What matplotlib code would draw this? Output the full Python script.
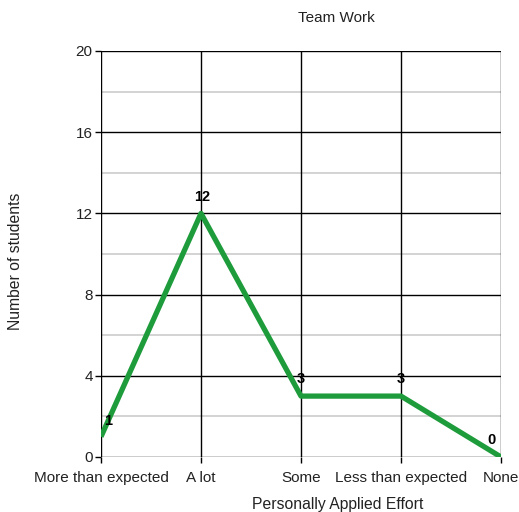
import matplotlib
matplotlib.use("Agg")
import matplotlib.pyplot as plt

categories = ["More than expected", "A lot", "Some", "Less than expected", "None"]
values = [1, 12, 3, 3, 0]
label_offsets = [(5, 11), (1, 12), (0, 12), (0, 12), (-7, 12)]
y_ticks = [0, 4, 8, 12, 16, 20]
y_minor = [2, 6, 10, 14, 18]

plt.rcParams['font.family'] = ['Liberation Sans', 'DejaVu Sans']

fig = plt.figure(figsize=(5.19, 5.12), dpi=100)
ax = fig.add_axes([101/519, 1 - 457/512, 400/519, 406/512])

x = list(range(len(categories)))
ax.set_xlim(0, len(categories) - 1)
ax.set_ylim(0, 20)

for m in y_minor:
    ax.axhline(m, color='#cccccc', lw=1.2, zorder=1)
for t in y_ticks:
    ax.axhline(t, color='black', lw=1.0, zorder=1.5)
for xi in x:
    ax.axvline(xi, color='black', lw=1.0, zorder=1.5)

ax.plot(x, values, color='#1e9c3c', lw=3.8, zorder=3, solid_capstyle='butt')

for xi, v, off in zip(x, values, label_offsets):
    ax.annotate(str(v), (xi, v), xytext=off, textcoords='offset points',
                ha='center', va='center', fontsize=10.5, fontweight='bold', zorder=4)

for s in ax.spines.values():
    s.set_visible(False)

ax.set_yticks(y_ticks)
ax.set_xticks(x)
ax.set_xticklabels(categories)
ax.tick_params(axis='both', length=4, width=1, labelsize=11, color='black', labelcolor='#222222')
ax.tick_params(axis='x', pad=6)
ax.tick_params(axis='y', pad=2)

fig.text(336/519, 1 - 18/512, "Team Work", ha='center', va='center', fontsize=11, color='#222222')
fig.text(338/519, 1 - 505/512, "Personally Applied Effort", ha='center', va='center', fontsize=11.3, color='#222222')
fig.text(16/519, 1 - 261/512, "Number of students", ha='center', va='center', rotation=90, fontsize=11.3, color='#222222')

fig.savefig("out.png", dpi=100)
